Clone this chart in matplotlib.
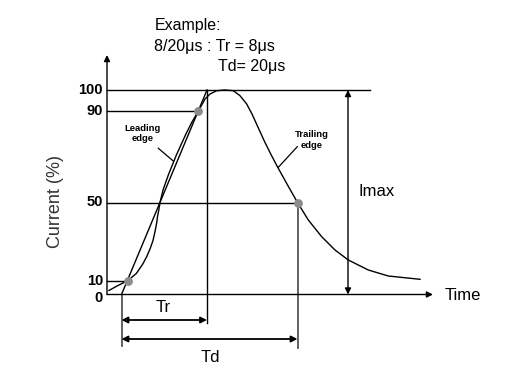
import numpy as np
import matplotlib
matplotlib.use("Agg")
import matplotlib.pyplot as plt

plt.rcParams['font.family'] = ['Liberation Sans', 'DejaVu Sans']

# schematic 8/20us surge waveform (diagram units)
t = [2, 10, 20.7, 29.3, 35.5, 39.8, 43.2, 46, 47.8, 49.6, 50.5, 51.9, 53.2,
     56.2, 61.5, 69.6, 78.7, 84.7, 91.3, 98, 103, 109.7, 118, 126.3, 133,
     139.7, 145, 150, 158, 164, 170.3, 180, 190.5, 201.3, 214.7, 228, 241.3,
     261.3, 281.3, 313]
cur = [4, 8.5, 13.8, 21, 30, 38, 46, 54, 62, 71, 78, 85, 93, 105, 120, 140,
       160, 172, 183.2, 195.5, 200.5, 203.8, 204.5, 203.8, 198.8, 190.5, 180.5,
       169.5, 152, 140, 128, 110.5, 92, 74.5, 57.8, 44.5, 34.5, 24.5, 18.5, 15.2]

level_labels = ['0', '10', '50', '90', '100']
level_pos = [0, 13.5, 92, 183.2, 204.5]

t_start = 14.5     # virtual origin O1
t_10 = 20.7
t_90 = 91.3
t_r = 100          # end of front time
t_50 = 190.5       # decay to half value
t_imax = 241

fig = plt.figure(figsize=(5.16, 3.89), dpi=100)
ax = fig.add_axes([0, 0, 1, 1])
ax.set_xlim(-107, 409)
ax.set_ylim(-94.5, 294.5)
ax.axis('off')

lw = 1.0
k = 'black'
grey = '#555555'

# axes with arrows
ax.annotate('', xy=(0, 239.5), xytext=(0, 0),
            arrowprops=dict(arrowstyle='-|>', color=k, lw=lw, mutation_scale=9, shrinkA=0, shrinkB=0))
ax.annotate('', xy=(326, 0), xytext=(0, 0),
            arrowprops=dict(arrowstyle='-|>', color=k, lw=lw, mutation_scale=9, shrinkA=0, shrinkB=0))

# level lines
ax.plot([0, 263], [level_pos[4]] * 2, color=k, lw=lw)
ax.plot([0, t_90], [level_pos[3]] * 2, color=k, lw=lw)
ax.plot([0, t_50], [level_pos[2]] * 2, color=k, lw=lw)
ax.plot([0, t_10], [level_pos[1]] * 2, color=k, lw=lw)

for lab, y in zip(level_labels, level_pos):
    yy = y - 3.5 if lab == '0' else y
    ax.text(-4, yy, lab, ha='right', va='center', fontsize=10.5, color=k,
            fontweight='bold')

# straight line through 10% and 90% points
ax.plot([t_start, t_r], [0, level_pos[4]], color=k, lw=lw)

# waveform
ax.plot(t, cur, color=k, lw=lw)

# verticals
ax.plot([t_start, t_start], [0, -51.5], color=grey, lw=1.3)
ax.plot([t_r, t_r], [level_pos[4], -28.5], color=k, lw=lw)
ax.plot([t_50, t_50], [level_pos[2], -53.5], color=grey, lw=1.3)

# marked points
ax.scatter([t_10, t_90, t_50], [level_pos[1], level_pos[3], level_pos[2]],
           s=40, color='#8c8c8c', zorder=5, linewidths=0)

# Tr / Td dimension arrows
ax.annotate('', xy=(t_start, -25.5), xytext=(t_r, -25.5),
            arrowprops=dict(arrowstyle='<|-|>', color=k, lw=1.3, mutation_scale=9, shrinkA=0, shrinkB=0))
ax.annotate('', xy=(t_start, -44.5), xytext=(t_50, -44.5),
            arrowprops=dict(arrowstyle='<|-|>', color=k, lw=1.3, mutation_scale=9, shrinkA=0, shrinkB=0))
ax.text(56, -12.5, 'Tr', ha='center', va='center', fontsize=12)
ax.text(103, -62.5, 'Td', ha='center', va='center', fontsize=12)

# Imax
ax.annotate('', xy=(t_imax, 0), xytext=(t_imax, level_pos[4]),
            arrowprops=dict(arrowstyle='<|-|>', color=k, lw=lw, mutation_scale=9, shrinkA=0, shrinkB=0))
ax.text(251, 102.5, 'Imax', ha='left', va='center', fontsize=12)
ax.text(338, -1.5, 'Time', ha='left', va='center', fontsize=12)

# edge labels
ax.text(35.5, 161, 'Leading\nedge', ha='center', va='center', fontsize=6.8,
        fontweight='bold', linespacing=1.15)
ax.plot([51.3, 66.3], [146.2, 133.5], color=k, lw=0.9)
ax.text(205, 154.5, 'Trailing\nedge', ha='center', va='center', fontsize=6.8,
        fontweight='bold', linespacing=1.15)
ax.plot([190.3, 171.3], [147.8, 127.2], color=k, lw=0.9)

# y label
ax.text(-52, 93, 'Current (%)', rotation=90, ha='center', va='center',
        fontsize=13, color='#333333')

# example note
ax.text(47.3, 264.5, 'Example:', ha='left', va='baseline', fontsize=11.5)
ax.text(47.3, 244, '8/20μs : Tr = 8μs', ha='left', va='baseline', fontsize=11.5)
ax.text(111.3, 223.5, 'Td= 20μs', ha='left', va='baseline', fontsize=11.5)

fig.savefig('out.png', dpi=100)
